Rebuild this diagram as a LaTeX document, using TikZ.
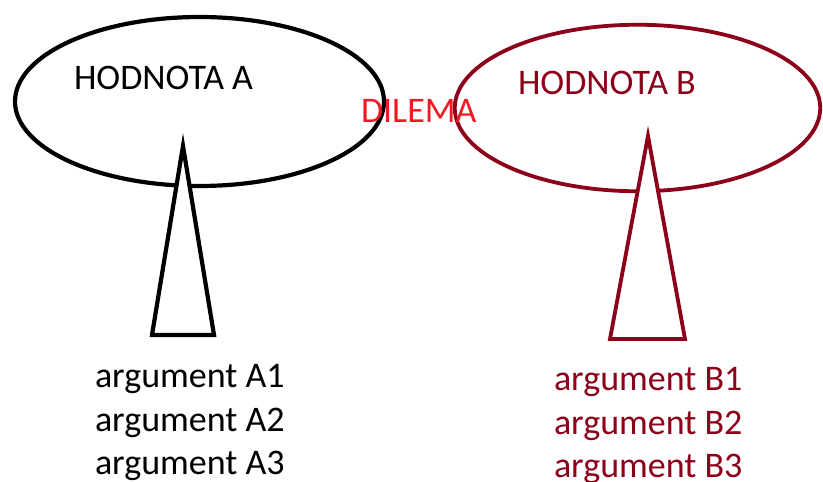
\documentclass[tikz,border=0pt]{standalone}
\usepackage{fontspec}
\setmainfont{Carlito}
\usetikzlibrary{shapes.geometric}
\definecolor{darkred}{RGB}{140,0,26}
\definecolor{dilred}{RGB}{237,28,36}
\tikzset{
  oval/.style={ellipse, draw, line width=4.2pt, inner sep=0pt, outer sep=0pt},
  tri/.style={draw, fill=white, line width=4.2pt, line join=miter},
  lbl/.style={anchor=base west, inner sep=0pt, outer sep=0pt, font=\fontsize{36}{42}\selectfont}
}
\begin{document}
\begin{tikzpicture}[x=1pt,y=-1pt]
\useasboundingbox (0,0) rectangle (823,482);
\node[oval, minimum width=369pt, minimum height=169pt] (EA) at (199.5,101.5) {};
\node[oval, draw=darkred, line width=3.8pt, minimum width=365.5pt, minimum height=166.5pt] (EB) at (637.5,108) {};
\coordinate (TA1) at (183,146);
\coordinate (TA2) at (152,335);
\coordinate (TA3) at (214,335);
\draw[tri] (TA1) -- (TA2) -- (TA3) -- cycle;
\coordinate (TB1) at (648,136);
\coordinate (TB2) at (610,339);
\coordinate (TB3) at (685,339);
\draw[tri, draw=darkred, line width=3.8pt] (TB1) -- (TB2) -- (TB3) -- cycle;
\node[lbl] (HA) at (74,89) {HODNOTA A};
\node[lbl, text=darkred] (HB) at (518,94) {HODNOTA B};
\node[lbl, text=dilred] (DIL) at (361,122) {DILEMA};
\node[lbl] (A1) at (95,387) {argument A1};
\node[lbl] (A2) at (95,431) {argument A2};
\node[lbl] (A3) at (95,474) {argument A3};
\node[lbl, text=darkred] (B1) at (554,390) {argument B1};
\node[lbl, text=darkred] (B2) at (554,434) {argument B2};
\node[lbl, text=darkred] (B3) at (554,477) {argument B3};
\end{tikzpicture}
\end{document}
